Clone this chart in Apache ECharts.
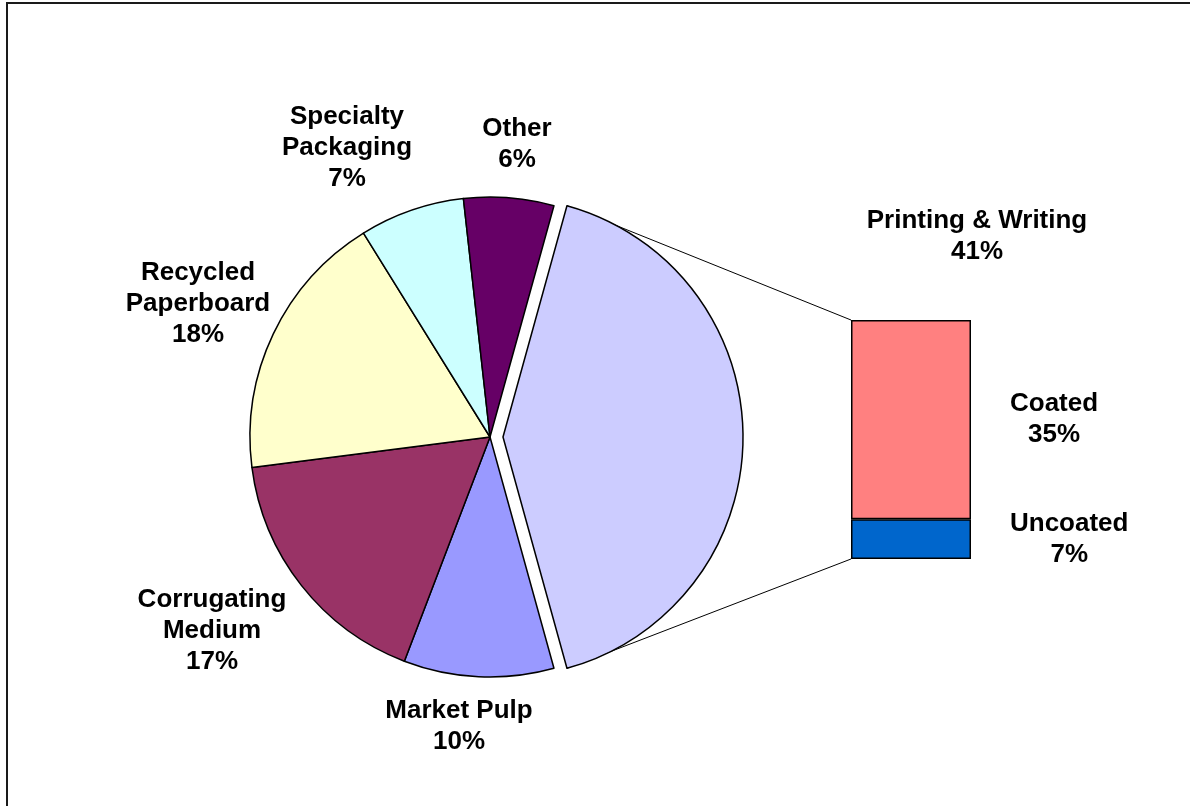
<!DOCTYPE html>
<html>
<head>
<meta charset="utf-8">
<script src="https://cdn.jsdelivr.net/npm/echarts@6/dist/echarts.min.js"></script>
<style>
  html, body { margin: 0; padding: 0; background: #ffffff; }
  #chart { width: 1190px; height: 806px; }
</style>
</head>
<body>
<div id="chart"></div>
<script>
// Paper grade shares (%), clockwise from the exploded slice
const categories = ['Printing & Writing', 'Market Pulp', 'Corrugating Medium', 'Recycled Paperboard', 'Specialty Packaging', 'Other'];
const categoryLabels = ['Printing & Writing', 'Market Pulp', 'Corrugating\nMedium', 'Recycled\nPaperboard', 'Specialty\nPackaging', 'Other'];
const shares = [41, 10, 17, 18, 7, 6];
const pieColors = ['#CCCCFF', '#9999FF', '#993366', '#FFFFCC', '#CCFFFF', '#660066'];

// Breakdown of Printing & Writing (%)
const breakdownNames = ['Coated', 'Uncoated'];
const breakdownValues = [35, 7];
const breakdownColors = ['#FF8080', '#0066CC'];

// Layout
const PIE_CENTER = [490, 437];
const PIE_R = 240;
const EXPLODE = 13;
const EXPLODED_INDEX = 0;
// label block centres, relative to the pie centre
const pieLabelOffsets = [[487, -201], [-31, 289], [-278, 194], [-292, -133], [-143, -289], [27, -293]];

const FONT = {
  fontFamily: '"Liberation Sans", Arial, Helvetica, sans-serif',
  fontWeight: 'bold',
  fontSize: 26,
  lineHeight: 31,
  color: '#000000'
};

const total = shares.reduce((a, b) => a + b, 0);
const breakdownTotal = breakdownValues.reduce((a, b) => a + b, 0);
// centre the exploded slice on the 3 o'clock position
const startAngle = shares[EXPLODED_INDEX] / total * 180;
const explodedSpan = shares[EXPLODED_INDEX] / total * 360;
const explodedMid = (startAngle - explodedSpan / 2) * Math.PI / 180;
const explodedCenter = [
  PIE_CENTER[0] + EXPLODE * Math.cos(explodedMid),
  PIE_CENTER[1] - EXPLODE * Math.sin(explodedMid)
];

const chart = echarts.init(document.getElementById('chart'), null, { renderer: 'canvas' });

const frame = {
  id: 'frame', type: 'rect', silent: true,
  shape: { x: 7, y: 3, width: 1300, height: 900 },
  style: { fill: 'none', stroke: '#1a1a1a', lineWidth: 2 }
};

const hidden = { color: 'rgba(0,0,0,0)', borderWidth: 0 };

// one pie series draws the slices in place, the other only the exploded slice
function pieSeries(center, showExploded) {
  return {
    type: 'pie',
    center: center,
    radius: PIE_R,
    startAngle: startAngle,
    clockwise: true,
    silent: true,
    avoidLabelOverlap: false,
    emphasis: { disabled: true },
    itemStyle: { borderColor: '#000', borderWidth: 1.5 },
    label: Object.assign({
      show: true,
      position: 'outside',
      align: 'center',
      formatter: p => categoryLabels[p.dataIndex] + '\n' + p.value + '%'
    }, FONT),
    labelLine: { show: false },
    labelLayout: p => ({
      x: PIE_CENTER[0] + pieLabelOffsets[p.dataIndex][0],
      y: PIE_CENTER[1] + pieLabelOffsets[p.dataIndex][1],
      align: 'center',
      verticalAlign: 'middle'
    }),
    data: categories.map((c, i) => {
      const visible = (i === EXPLODED_INDEX) === showExploded;
      return {
        name: c,
        value: shares[i],
        itemStyle: visible ? { color: pieColors[i] } : hidden,
        label: { show: visible }
      };
    })
  };
}

const barSeries = breakdownNames.map((name, i) => ({
  type: 'bar',
  name: name,
  stack: 'pw',
  barWidth: '100%',
  silent: true,
  data: [breakdownValues[i]],
  itemStyle: { color: breakdownColors[i], borderColor: '#000', borderWidth: 1.5 },
  emphasis: { disabled: true },
  label: Object.assign({ show: true, position: 'right', formatter: '{a}\n{c}%', align: 'center' }, FONT),
  labelLayout: p => ({
    x: p.rect.x + p.rect.width + 39 + p.labelRect.width / 2,
    y: p.rect.y + p.rect.height / 2,
    align: 'center',
    verticalAlign: 'middle'
  })
})).reverse(); // Uncoated stacked at the bottom

chart.setOption({
  animation: false,
  backgroundColor: '#ffffff',
  graphic: [frame],
  grid: { left: 851, top: 320, width: 120, height: 239 },
  xAxis: { type: 'category', data: [categories[EXPLODED_INDEX]], show: false },
  yAxis: { type: 'value', min: 0, max: breakdownTotal, show: false },
  series: [
    pieSeries(PIE_CENTER, false),
    pieSeries(explodedCenter, true)
  ].concat(barSeries)
});

// connector lines from the exploded slice edges to the breakdown bar
(function () {
  const a1 = startAngle * Math.PI / 180;
  const a2 = (startAngle - explodedSpan) * Math.PI / 180;
  const p1 = [explodedCenter[0] + PIE_R * Math.cos(a1), explodedCenter[1] - PIE_R * Math.sin(a1)];
  const p2 = [explodedCenter[0] + PIE_R * Math.cos(a2), explodedCenter[1] - PIE_R * Math.sin(a2)];

  const xAxis = chart.getModel().getComponent('xAxis', 0).axis;
  const band = xAxis.getBandWidth();
  const xLeft = chart.convertToPixel({ xAxisIndex: 0 }, categories[EXPLODED_INDEX]) - band / 2;
  const yTop = chart.convertToPixel({ yAxisIndex: 0 }, breakdownTotal);
  const yBot = chart.convertToPixel({ yAxisIndex: 0 }, 0);

  const lineStyle = { stroke: '#000', lineWidth: 1 };
  chart.setOption({
    graphic: [
      frame,
      { id: 'c1', type: 'line', silent: true, shape: { x1: p1[0], y1: p1[1], x2: xLeft, y2: yTop }, style: lineStyle },
      { id: 'c2', type: 'line', silent: true, shape: { x1: p2[0], y1: p2[1], x2: xLeft, y2: yBot }, style: lineStyle }
    ]
  });
})();
</script>
</body>
</html>
